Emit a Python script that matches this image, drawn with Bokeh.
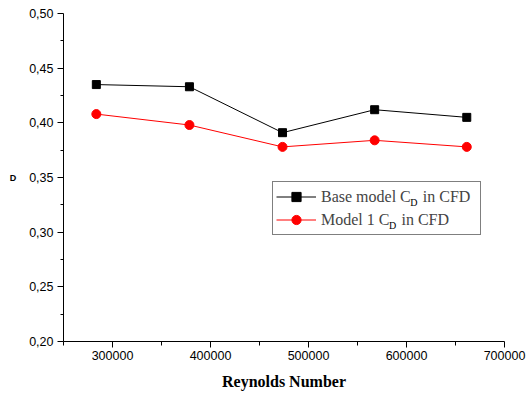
from bokeh.plotting import figure
from bokeh.models import (Range1d, FixedTicker, CustomJSTickFormatter, NumeralTickFormatter,
                          Legend, LegendItem, ColumnDataSource)
from bokeh.core.properties import value
from bokeh.embed import file_html
from bokeh.resources import INLINE

reynolds = [283500, 378500, 473500, 567500, 661500]
cd_base = [0.435, 0.433, 0.391, 0.412, 0.405]
cd_model1 = [0.408, 0.398, 0.378, 0.384, 0.378]
x_ticks = [300000, 400000, 500000, 600000, 700000]
x_minor = [250000, 350000, 450000, 550000, 650000]
y_ticks = [0.20, 0.25, 0.30, 0.35, 0.40, 0.45, 0.50]
y_minor = [0.225, 0.275, 0.325, 0.375, 0.425, 0.475]
series_names = ["Base model C", "Model 1 C"]

XMIN, XMAX, YMIN, YMAX = 250000, 700000, 0.20, 0.50
FW, FH = 441, 328

p = figure(frame_width=FW, frame_height=FH, output_backend="svg", toolbar_location=None,
           x_range=Range1d(XMIN, XMAX), y_range=Range1d(YMIN, YMAX),
           min_border_left=63, min_border_top=13, min_border_right=22, min_border_bottom=50)
p.outline_line_color = None
p.xgrid.visible = False
p.ygrid.visible = False
p.background_fill_color = "white"
p.border_fill_color = "white"

src = ColumnDataSource(dict(x=reynolds, base=cd_base, m1=cd_model1))
l1 = p.line("x", "base", source=src, line_color="black", line_width=1)
s1 = p.scatter("x", "base", source=src, marker="square", size=8, fill_color="black", line_color="black")
l2 = p.line("x", "m1", source=src, line_color="#ff0000", line_width=1)
s2 = p.scatter("x", "m1", source=src, marker="circle", size=9, fill_color="#ff0000", line_color="#ff0000")

# axes
xa = p.xaxis[0]
xa.ticker = FixedTicker(ticks=x_ticks, minor_ticks=x_minor)
xa.formatter = NumeralTickFormatter(format="0")
xa.axis_label = "Reynolds Number"
xa.axis_label_text_font = "Liberation Serif"
xa.axis_label_text_font_style = "bold"
xa.axis_label_text_font_size = "16px"
xa.axis_label_standoff = 10
xa.major_label_text_font = "Liberation Sans"
xa.major_label_text_font_size = "12.5px"
xa.major_label_standoff = 3
xa.major_tick_out = 6
xa.major_tick_in = 0
xa.minor_tick_out = 4
xa.minor_tick_in = 0

ya = p.yaxis[0]
ya.ticker = FixedTicker(ticks=y_ticks, minor_ticks=y_minor)
ya.formatter = CustomJSTickFormatter(code="return tick.toFixed(2).replace('.', ',');")
ya.major_label_text_font = "Liberation Sans"
ya.major_label_text_font_size = "12.5px"
ya.major_label_standoff = 4
ya.major_tick_out = 6
ya.major_tick_in = 0
ya.minor_tick_out = 3
ya.minor_tick_in = 0
ya.axis_label = "D"
ya.axis_label_text_font = "Liberation Sans"
ya.axis_label_text_font_style = "bold"
ya.axis_label_text_font_size = "9px"
ya.axis_label_standoff = 10
if "axis_label_orientation" in ya.properties():
    ya.axis_label_orientation = "horizontal"

for ax in (xa, ya):
    ax.axis_line_color = "black"
    ax.major_tick_line_color = "black"
    ax.minor_tick_line_color = "black"
    ax.major_label_text_color = "black"
    ax.axis_label_text_color = "black"

# legend (transparent background so the subscripts drawn below show through)
FONT_PX = 16
legend = Legend(items=[LegendItem(label=series_names[0] + "\u2002 in CFD\u2009\u2009", renderers=[l1, s1]),
                       LegendItem(label=series_names[1] + "\u2002 in CFD\u2009\u2009", renderers=[l2, s2])],
                location=(209, 106), glyph_width=40, glyph_height=23, label_height=23,
                label_standoff=5, padding=3, spacing=0, margin=0,
                label_text_font="Liberation Serif", label_text_font_size=f"{FONT_PX}px",
                border_line_color="black", border_line_width=1, background_fill_alpha=0.0)
p.add_layout(legend)

# subscript D for each legend label (Times metrics)
times_w = {"B": .667, "a": .444, "s": .389, "e": .444, " ": .25, "m": .778, "o": .5, "d": .5,
           "l": .278, "C": .667, "M": .889, "1": .5}
def px_to_x(px):
    return XMIN + px / FW * (XMAX - XMIN)
def px_to_y(py_from_top):
    return YMAX - py_from_top / FH * (YMAX - YMIN)
text_left = 209 + 3 + 40 + 5
box_top = FH - 106 - 52
row_centers = [box_top + 3 + 11.5 + 4, box_top + 3 + 23 + 11.5 + 4]
sub_x, sub_y = [], []
for name, rc in zip(series_names, row_centers):
    w = sum(times_w.get(c, .5) for c in name) * FONT_PX
    sub_x.append(px_to_x(text_left + w))
    sub_y.append(px_to_y(rc))
p.text(x=sub_x, y=sub_y, text=["D", "D"],
       text_font=value("Liberation Serif"), text_font_size="10px",
       text_baseline="middle", text_align="left", text_color="black")

open("out.html", "w").write(file_html(p, INLINE))
